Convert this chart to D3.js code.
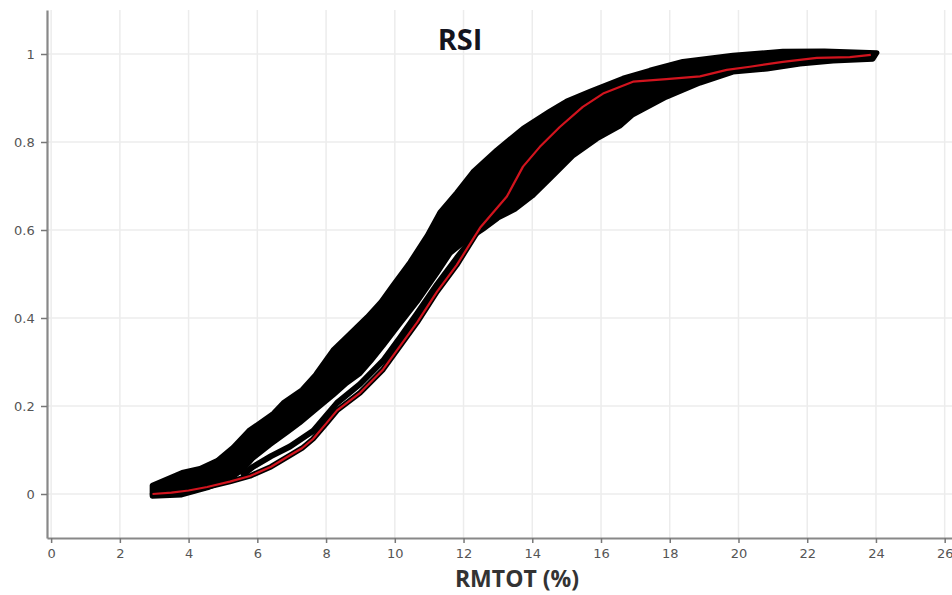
<!DOCTYPE html>
<html>
<head>
<meta charset="utf-8">
<script src="https://cdn.jsdelivr.net/npm/d3@7"></script>
<style>
    body { margin: 0; background: #ffffff; }
</style>
</head>
<body>
<svg id="viz" width="952" height="595"></svg>
<script>
// axis ticks
const xTickValues = [0, 2, 4, 6, 8, 10, 12, 14, 16, 18, 20, 22, 24, 26];
const yTickValues = [0, 0.2, 0.4, 0.6, 0.8, 1];
const yTickLabels = ["0", "0.2", "0.4", "0.6", "0.8", "1"];

// black band of simulated CDFs: upper edge and lower edge [RMTOT %, cumulative prob]
const bandUpper = [[2.94, 0.02], [3.81, 0.049], [4.33, 0.058], [4.83, 0.076], [5.29, 0.106], [5.75, 0.144],
    [6.46, 0.183], [6.75, 0.207], [7.3, 0.237], [7.7, 0.272], [8.2, 0.327], [8.6, 0.357], [9.19, 0.402], [9.6, 0.437],
    [9.95, 0.475], [10.44, 0.527], [10.94, 0.587], [11.31, 0.64], [11.8, 0.685], [12.27, 0.732], [12.97, 0.782],
    [13.73, 0.831], [14.51, 0.87], [15.0, 0.893], [15.68, 0.915], [16.64, 0.945], [17.42, 0.963], [18.38, 0.983],
    [19.84, 0.997], [21.29, 1.006], [22.5, 1.007], [24.03, 1.003]];
const bandLower = [[2.94, -0.005], [3.8, -0.002], [4.54, 0.014], [5.2, 0.034], [5.6, 0.057], [5.88, 0.082],
    [6.37, 0.112], [6.9, 0.142], [7.24, 0.162], [7.7, 0.192], [8.2, 0.224], [8.6, 0.252], [8.99, 0.274], [9.3, 0.302],
    [9.66, 0.337], [10.15, 0.387], [10.65, 0.437], [11.23, 0.502], [11.61, 0.547], [12.0, 0.572], [12.57, 0.602],
    [13.0, 0.627], [13.5, 0.647], [14.0, 0.677], [14.51, 0.716], [15.18, 0.768], [15.88, 0.807], [16.55, 0.836],
    [16.93, 0.862], [17.9, 0.902], [18.88, 0.934], [19.84, 0.959], [20.83, 0.966], [21.79, 0.977], [22.75, 0.984],
    [23.91, 0.988]];
// thin strand of points just above the red curve
const strand = [[5.6, 0.045], [5.88, 0.062], [6.4, 0.086], [6.95, 0.108], [7.62, 0.143], [8.32, 0.207],
    [8.99, 0.25], [9.66, 0.303], [10.15, 0.355], [10.65, 0.41], [11.23, 0.476], [11.81, 0.537], [12.2, 0.575]];
// observed RSI curve (red)
const redCurve = [[2.95, 0.0], [3.5, 0.003], [4.0, 0.008], [4.54, 0.016], [5.2, 0.028], [5.79, 0.041],
    [6.4, 0.062], [6.95, 0.088], [7.3, 0.104], [7.62, 0.125], [8.0, 0.16], [8.32, 0.19], [8.99, 0.23],
    [9.66, 0.283], [10.15, 0.336], [10.65, 0.39], [11.23, 0.46], [11.8, 0.52], [12.48, 0.605], [13.26, 0.676],
    [13.73, 0.744], [14.22, 0.789], [14.8, 0.834], [15.47, 0.88], [16.06, 0.91], [16.93, 0.937], [17.9, 0.943],
    [18.88, 0.949], [19.66, 0.964], [20.33, 0.971], [21.29, 0.982], [22.28, 0.991], [23.24, 0.993], [23.85, 0.998]];

let svg = d3.select("#viz");
let width = parseInt(svg.attr("width"));
let height = parseInt(svg.attr("height"));

let x = d3.scaleLinear().domain([-0.12, 26.3]).range([47, 955]);
let y = d3.scaleLinear().domain([-0.1, 1.1]).range([538, 10]);

// grid
let grid = svg.append("g").attr("id", "grid");
grid.selectAll("line.gx")
    .data(xTickValues)
    .join("line")
    .attr("x1", d => x(d)).attr("x2", d => x(d))
    .attr("y1", y(1.1)).attr("y2", y(-0.1))
    .style("stroke", "#ececec")
    .style("stroke-width", 1.5);
grid.selectAll("line.gy")
    .data(yTickValues)
    .join("line")
    .attr("x1", x(-0.12)).attr("x2", width)
    .attr("y1", d => y(d)).attr("y2", d => y(d))
    .style("stroke", "#ececec")
    .style("stroke-width", 1.5);

// axes
let xAxis = svg.append("g")
    .attr("transform", "translate(0," + y(-0.1) + ")")
    .call(d3.axisBottom(x).tickValues(xTickValues).tickSize(5).tickSizeOuter(0));
let yAxis = svg.append("g")
    .attr("transform", "translate(" + x(-0.12) + ",0)")
    .call(d3.axisLeft(y).tickValues(yTickValues).tickFormat((d, i) => yTickLabels[i]).tickSize(6).tickSizeOuter(0));

[xAxis, yAxis].forEach(a => {
    a.select(".domain").style("stroke", "#888").style("stroke-width", 2.2);
    a.selectAll(".tick line").style("stroke", "#777").style("stroke-width", 1.5);
    a.selectAll(".tick text")
        .style("fill", "#555")
        .style("font-family", "DejaVu Sans")
        .style("font-size", "13px");
});
xAxis.selectAll(".tick text").attr("dy", "0.95em");
yAxis.selectAll(".tick text").attr("dx", "-0.25em");

// band of black markers
let line = d3.line().x(d => x(d[0])).y(d => y(d[1]));
let bandPoly = bandUpper.concat(bandLower.slice().reverse());
svg.append("path")
    .attr("d", line(bandPoly) + "Z")
    .style("fill", "#000")
    .style("stroke", "#000")
    .style("stroke-width", 5)
    .style("stroke-linejoin", "round");

svg.append("path")
    .attr("d", line(strand))
    .style("fill", "none")
    .style("stroke", "#000")
    .style("stroke-width", 6)
    .style("stroke-linecap", "round")
    .style("stroke-linejoin", "round");

// red curve with black outline
svg.append("path")
    .attr("d", line(redCurve))
    .style("fill", "none")
    .style("stroke", "#000")
    .style("stroke-width", 5.5)
    .style("stroke-linecap", "round")
    .style("stroke-linejoin", "round");
svg.append("path")
    .attr("d", line(redCurve))
    .style("fill", "none")
    .style("stroke", "#d2141e")
    .style("stroke-width", 2.2)
    .style("stroke-linejoin", "round");

// titles
svg.append("text")
    .text("RSI")
    .attr("x", 460).attr("y", 50)
    .attr("text-anchor", "middle")
    .style("font-family", "Open Sans")
    .style("font-weight", "bold")
    .style("font-size", "29px")
    .style("fill", "#14141e");
svg.append("text")
    .text("RMTOT (%)")
    .attr("x", 517).attr("y", 587)
    .attr("text-anchor", "middle")
    .style("font-family", "Open Sans")
    .style("font-weight", "bold")
    .style("font-size", "23px")
    .style("fill", "#333");
</script>
</body>
</html>
